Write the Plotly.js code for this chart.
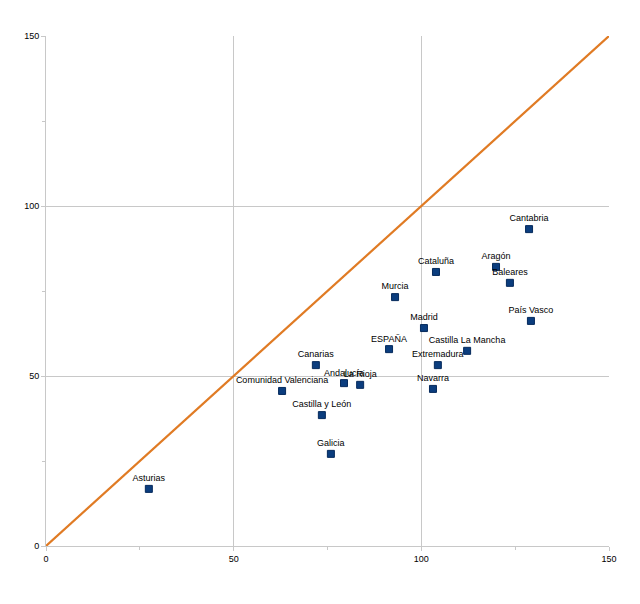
<!DOCTYPE html>
<html>
<head>
<meta charset="utf-8">
<script src="https://cdn.plot.ly/plotly-3.0.1.min.js"></script>
<style>html,body{margin:0;padding:0;background:#fff;}#chart{width:640px;height:604px;}</style>
</head>
<body>
<div id="chart"></div>
<script>
const regions = ["Asturias","Comunidad Valenciana","Canarias","Castilla y León","Galicia","Andalucía","La Rioja","ESPAÑA","Murcia","Madrid","Cataluña","Extremadura","Navarra","Castilla La Mancha","Aragón","Baleares","Cantabria","País Vasco"];
const xValues = [27.4,62.9,71.9,73.5,75.9,79.4,83.7,91.4,93.0,100.7,103.9,104.4,103.1,112.2,119.9,123.6,128.7,129.2];
const yValues = [16.8,45.6,53.2,38.5,27.1,47.9,47.4,57.9,73.2,64.1,80.6,53.2,46.2,57.4,82.1,77.4,93.2,66.2];
const diagX = [0,150];
const diagY = [0,150];
const tickVals = [0,50,100,150];

const traces = [
  {x: diagX, y: diagY, mode:'lines', line:{color:'#e07b24', width:2.2}, hoverinfo:'skip', showlegend:false},
  {x: xValues, y: yValues, text: regions, mode:'markers+text', textposition:'top center',
   textfont:{family:'Liberation Sans, Arial, sans-serif', size:9, color:'#000'},
   marker:{symbol:'square', size:7, color:'#0b3d7e', line:{color:'#062a5c', width:1}}, showlegend:false}
];
const axisCommon = {
  range:[0,150], tickvals: tickVals, showgrid:true, gridcolor:'#c8c8c8', gridwidth:1,
  zeroline:false, showline:true, linecolor:'#c8c8c8', linewidth:1,
  ticks:'outside', ticklen:4, tickcolor:'#c8c8c8',
  minor:{tickvals:[25,75,125], ticks:'outside', ticklen:3, tickcolor:'#c8c8c8', showgrid:false},
  tickfont:{family:'Liberation Sans, Arial, sans-serif', size:9, color:'#000'}, fixedrange:true
};
const layout = {
  width:640, height:604, margin:{l:46, r:31, t:36, b:58},
  paper_bgcolor:'#fff', plot_bgcolor:'#fff',
  xaxis: Object.assign({}, axisCommon),
  yaxis: Object.assign({}, axisCommon),
  showlegend:false
};
Plotly.newPlot('chart', traces, layout, {staticPlot:true, displayModeBar:false});
</script>
</body>
</html>
